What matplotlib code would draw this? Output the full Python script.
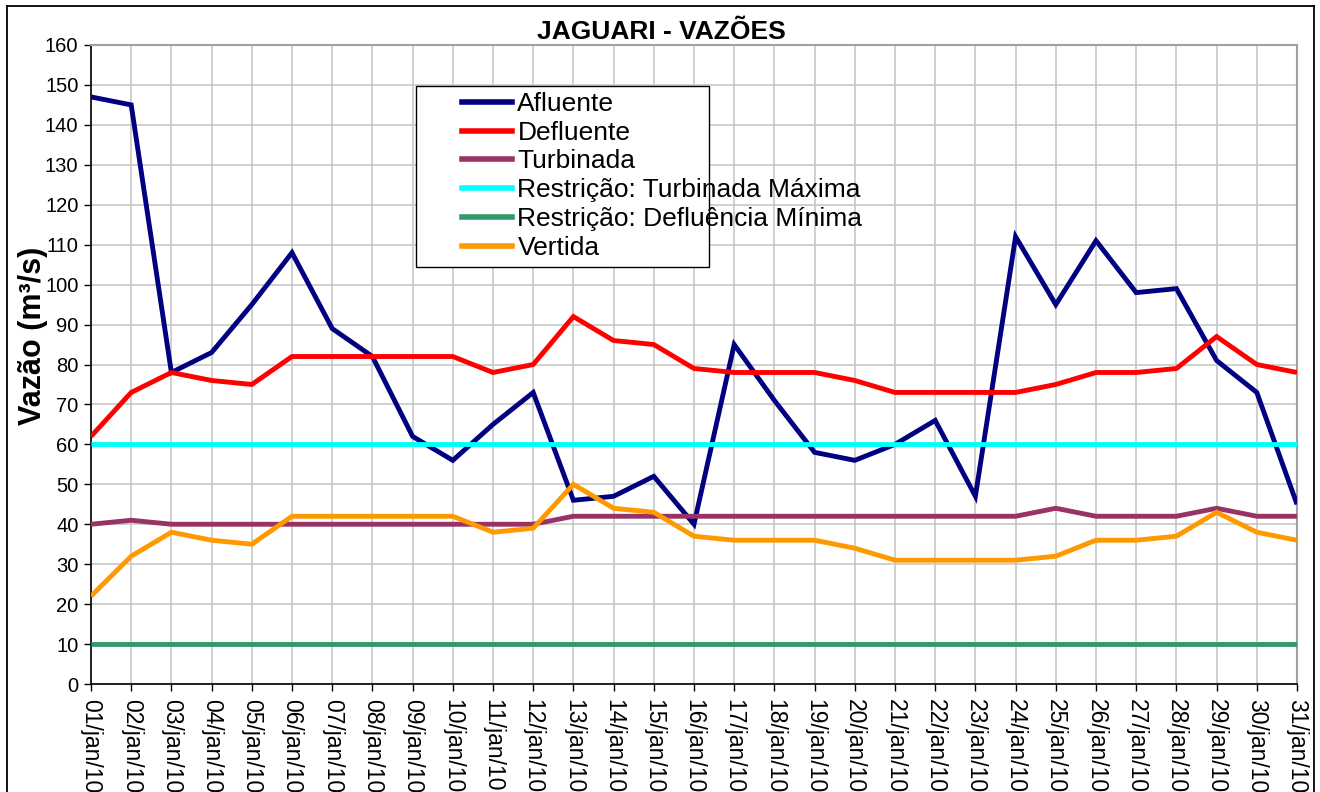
import matplotlib
matplotlib.use("Agg")
import matplotlib.pyplot as plt
from matplotlib.lines import Line2D
from matplotlib.patches import Rectangle

plt.rcParams['font.family'] = ['Liberation Sans', 'DejaVu Sans']

dates = [f"{d:02d}/jan/10" for d in range(1, 32)]
afluente = [147, 145, 78, 83, 95, 108, 89, 82, 62, 56, 65, 73, 46, 47, 52, 40,
            85, 71, 58, 56, 60, 66, 47, 112, 95, 111, 98, 99, 81, 73, 45]
defluente = [62, 73, 78, 76, 75, 82, 82, 82, 82, 82, 78, 80, 92, 86, 85, 79,
             78, 78, 78, 76, 73, 73, 73, 73, 75, 78, 78, 79, 87, 80, 78]
turbinada = [40, 41, 40, 40, 40, 40, 40, 40, 40, 40, 40, 40, 42, 42, 42, 42,
             42, 42, 42, 42, 42, 42, 42, 42, 44, 42, 42, 42, 44, 42, 42]
turb_max = [60] * 31
deflu_min = [10] * 31
vertida = [22, 32, 38, 36, 35, 42, 42, 42, 42, 42, 38, 39, 50, 44, 43, 37,
           36, 36, 36, 34, 31, 31, 31, 31, 32, 36, 36, 37, 43, 38, 36]

series = [
    ("Afluente", afluente, "#000080"),
    ("Defluente", defluente, "#FF0000"),
    ("Turbinada", turbinada, "#993366"),
    ("Restrição: Turbinada Máxima", turb_max, "#00FFFF"),
    ("Restrição: Defluência Mínima", deflu_min, "#339966"),
    ("Vertida", vertida, "#FF9900"),
]

W, H = 1320, 792
fig = plt.figure(figsize=(13.2, 7.92), dpi=100)
ax_l, ax_r, ax_t, ax_b = 91, 1297, 45, 684
ax = fig.add_axes([ax_l/W, 1-ax_b/H, (ax_r-ax_l)/W, (ax_b-ax_t)/H])

def axfrac(px, py):
    return ((px-ax_l)/(ax_r-ax_l), (ax_b-py)/(ax_b-ax_t))

x = list(range(len(dates)))
for i, (name, vals, col) in enumerate(series):
    ax.plot(x, vals, color=col, lw=3.5, solid_joinstyle='miter',
            solid_capstyle='butt', label=name, zorder=3 + i*0.1)

ax.set_xlim(0, 30)
ax.set_ylim(0, 160)
ax.set_yticks(range(0, 161, 10))
ax.set_xticks(x)
ax.set_xticklabels(dates, rotation=270, fontsize=16.5)
ax.tick_params(axis='y', labelsize=14.5, length=5, width=1, direction='out', pad=4)
ax.tick_params(axis='x', length=5, width=1, direction='out', pad=6)
ax.grid(True, color='#C8C8C8', lw=1.2, zorder=0)
ax.set_axisbelow(True)
for s in ['top', 'right']:
    ax.spines[s].set_color('#A0A0A0')
    ax.spines[s].set_linewidth(1.5)
for s in ['left', 'bottom']:
    ax.spines[s].set_color('black')
    ax.spines[s].set_linewidth(1.2)

ax.set_ylabel("Vazão (m³/s)", fontsize=22, fontweight='bold')
ax.yaxis.set_label_coords(-0.036, 0.545)
ax.set_title("JAGUARI - VAZÕES", fontsize=19, fontweight='bold', pad=4,
             x=(661-ax_l)/(ax_r-ax_l))

# legend frame
x0, y0 = axfrac(416, 267)
x1, y1 = axfrac(709, 86)
ax.add_patch(Rectangle((x0, y0), x1-x0, y1-y0, transform=ax.transAxes,
                       facecolor='white', edgecolor='black', lw=1.0, zorder=9))
leg_handles = [Line2D([0], [0], color=c, lw=4.0) for _, _, c in series]
lx, ly = axfrac(462, 92)
leg = ax.legend(leg_handles, [n for n, _, _ in series], loc='upper left',
                bbox_to_anchor=(lx, ly), fontsize=19, frameon=False,
                borderpad=0, labelspacing=0.18, handlelength=1.9,
                handletextpad=0.2, borderaxespad=0)
leg.set_zorder(10)

# outer figure frame
fl, ft, fr = 7/W, 1-6/H, 1314/W
for xs, ys in [([fl, fl], [0, ft]), ([fl, fr], [ft, ft]), ([fr, fr], [0, ft])]:
    fig.add_artist(Line2D(xs, ys, color='black', lw=1.3, transform=fig.transFigure))

fig.savefig("out.png", dpi=100)
